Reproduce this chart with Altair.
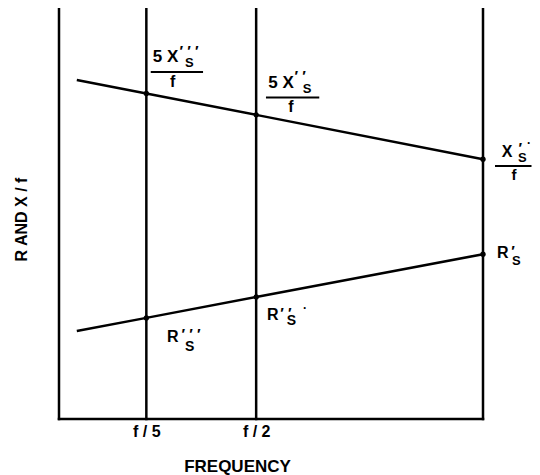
import altair as alt
import pandas as pd

# ---- values ----
freq_labels = ["f / 5", "f / 2", "f"]
freq_pos = [2.06, 4.65, 10.0]          # f/5, f/2, f on a 0-10 frequency axis
line_start = 0.42                       # where the two sloped lines begin
x_over_f = [8.25, 7.92, 7.40, 6.32]     # X/f at line start, f/5, f/2, f
r_vals = [2.14, 2.46, 2.97, 4.01]       # R at line start, f/5, f/2, f
x_title = "FREQUENCY"
y_title = "R AND X / f"

FONT = "Liberation Sans"
INK = "black"

xs = alt.Scale(domain=[0, 10], nice=False, zero=False)
ys = alt.Scale(domain=[0, 10], nice=False, zero=False)

label_expr = (f"datum.value < {(freq_pos[0] + freq_pos[1]) / 2} ? "
              f"'{freq_labels[0]}' : '{freq_labels[1]}'")

x_axis = alt.Axis(values=freq_pos[:2], labelExpr=label_expr, ticks=False, domain=False,
                  grid=False, labelFont=FONT, labelFontSize=16, labelFontWeight="bold",
                  labelColor=INK, labelPadding=12, labelBaseline="middle", labelOverlap=False,
                  title=x_title, titleFont=FONT, titleFontSize=17, titleFontWeight="bold",
                  titleColor=INK, titleX=178, titleY=47, titleBaseline="middle",
                  titleAlign="center")
y_axis = alt.Axis(labels=False, ticks=False, domain=False, grid=False,
                  title=y_title, titleFont=FONT, titleFontSize=16, titleFontWeight="bold",
                  titleColor=INK, titleAngle=270, titleX=-37.5, titleY=211,
                  titleBaseline="middle", titleAlign="center")


def X(field):
    return alt.X(f"{field}:Q", scale=xs, axis=x_axis)


def Y(field):
    return alt.Y(f"{field}:Q", scale=ys, axis=y_axis)


line_x = [line_start] + freq_pos
lines_df = pd.DataFrame({
    "freq": line_x * 2,
    "value": x_over_f + r_vals,
    "series": ["X/f"] * len(line_x) + ["R"] * len(line_x),
})
points_df = lines_df[lines_df["freq"] != line_start]

layers = []

# frame + vertical frequency lines
vert_df = pd.DataFrame({"freq": [0.0] + freq_pos})
layers.append(alt.Chart(vert_df).mark_rule(color=INK, strokeWidth=2.5, strokeCap="square")
              .encode(x=X("freq")))
bottom_df = pd.DataFrame({"value": [0.0]})
layers.append(alt.Chart(bottom_df).mark_rule(color=INK, strokeWidth=2.5, strokeCap="square")
              .encode(y=Y("value")))

# sloped lines
layers.append(alt.Chart(lines_df).mark_line(color=INK, strokeWidth=2.5)
              .encode(x=X("freq"), y=Y("value"), detail="series:N"))
layers.append(alt.Chart(points_df).mark_circle(color=INK, size=28, opacity=1)
              .encode(x=X("freq"), y=Y("value")))

# annotations anchored at intersection points
anchors = {
    "X1": (freq_pos[0], x_over_f[1]),
    "X2": (freq_pos[1], x_over_f[2]),
    "X3": (freq_pos[2], x_over_f[3]),
    "R3": (freq_pos[2], r_vals[3]),
    "R2": (freq_pos[1], r_vals[2]),
    "R1": (freq_pos[0], r_vals[1]),
}

P3 = "′ ′ ′"
P2 = "′ ′"
P1 = "′"

pieces = [
    ("X1", "5 X", 6.4, -31.3, 17, "left", "alphabetic"),
    ("X1", P3, 33.2, -37.6, 15, "left", "alphabetic"),
    ("X1", "S", 38.7, -26.3, 13, "left", "alphabetic"),
    ("X1", "f", 26.4, -6.6, 16, "center", "alphabetic"),
    ("X2", "5 X", 12.1, -26.7, 17, "left", "alphabetic"),
    ("X2", P2, 38.3, -33.6, 15, "left", "alphabetic"),
    ("X2", "S", 46.5, -21.7, 13, "left", "alphabetic"),
    ("X2", "f", 34.8, -3.3, 16, "center", "alphabetic"),
    ("X3", "X", 18.7, -2.3, 16, "left", "alphabetic"),
    ("X3", P1, 35.5, -5.9, 15, "left", "alphabetic"),
    ("X3", "S", 35.0, 2.7, 13, "left", "alphabetic"),
    ("X3", "·", 46.0, -16.6, 12, "center", "middle"),
    ("X3", "f", 31.0, 20.7, 15, "center", "alphabetic"),
    ("R3", "R", 14.0, 3.7, 16, "left", "alphabetic"),
    ("R3", P1, 28.2, 2.1, 15, "left", "alphabetic"),
    ("R3", "S", 29.0, 10.7, 13, "left", "alphabetic"),
    ("R2", "R", 10.8, 23.3, 16, "left", "alphabetic"),
    ("R2", P2, 24.0, 21.3, 15, "left", "alphabetic"),
    ("R2", "S", 30.5, 28.3, 14, "left", "alphabetic"),
    ("R2", "·", 48.8, 11.3, 12, "center", "middle"),
    ("R1", "R", 20.7, 24.0, 16, "left", "alphabetic"),
    ("R1", P3, 35.2, 21.4, 15, "left", "alphabetic"),
    ("R1", "S", 38.7, 33.0, 14, "left", "alphabetic"),
]

for key, txt, dx, dy, fs, align, base in pieces:
    ax, ay = anchors[key]
    df = pd.DataFrame({"freq": [ax], "value": [ay], "t": [txt]})
    layers.append(alt.Chart(df).mark_text(font=FONT, fontSize=fs, fontWeight="bold",
                                          color=INK, dx=dx, dy=dy, align=align,
                                          baseline=base)
                  .encode(x=X("freq"), y=Y("value"), text="t:N"))

bars = [("X1", 4.4, 56.7, -21.6), ("X2", 9.8, 63.1, -17.3), ("X3", 12.0, 48.5, 6.7)]
for key, x0, x1, yo in bars:
    ax, ay = anchors[key]
    df = pd.DataFrame({"freq": [ax], "value": [ay]})
    layers.append(alt.Chart(df).mark_rule(color=INK, strokeWidth=2, xOffset=x0, x2Offset=x1,
                                          yOffset=yo, y2Offset=yo)
                  .encode(x=X("freq"), x2="freq:Q", y=Y("value"), y2="value:Q"))

chart = (alt.layer(*layers)
         .properties(width=424, height=411, background="white",
                     autosize=alt.AutoSizeParams(type="none"),
                     padding={"left": 51, "top": 0, "right": 49, "bottom": 56})
         .configure_view(stroke=None))

chart.save("out.html", embed_options={"renderer": "svg", "actions": False})
